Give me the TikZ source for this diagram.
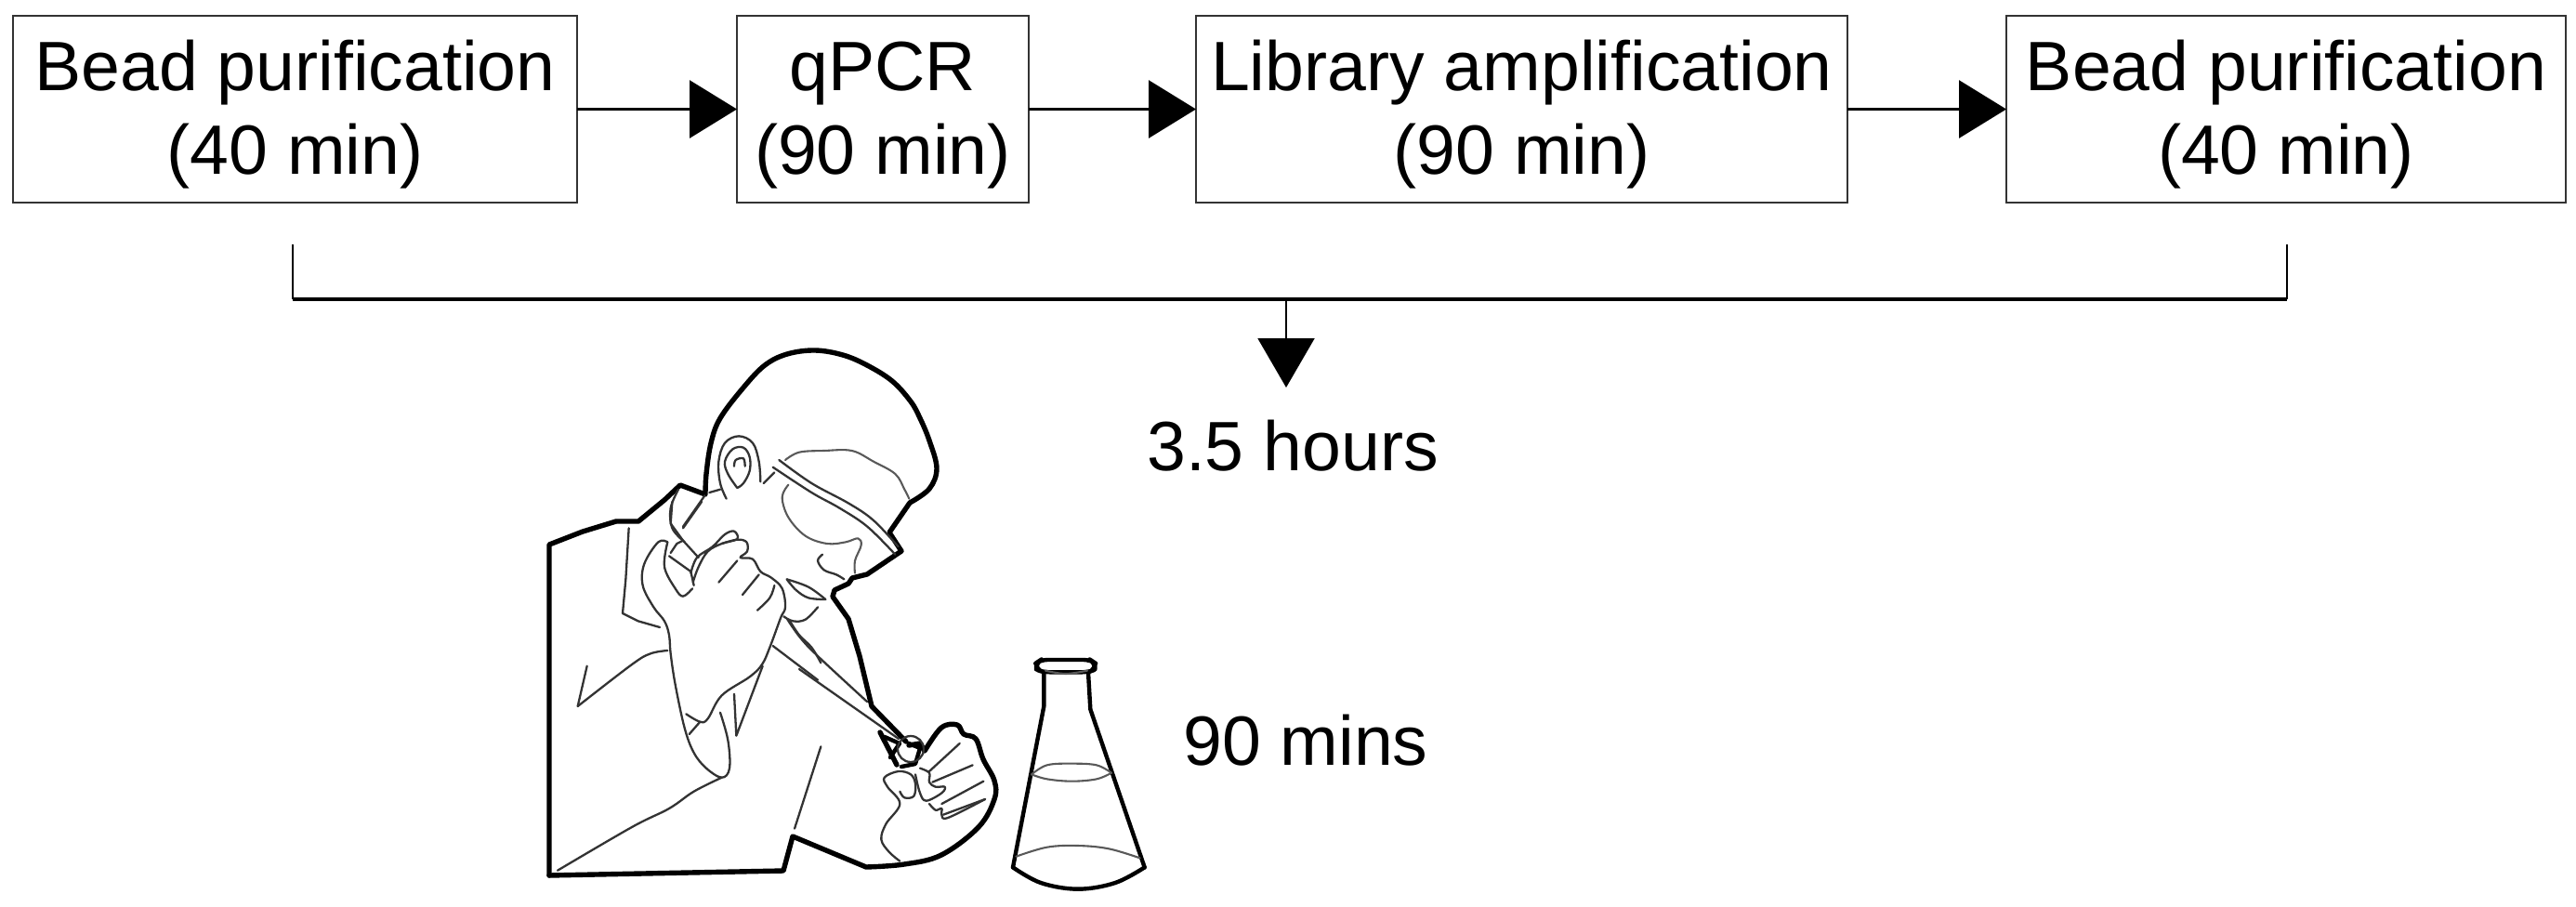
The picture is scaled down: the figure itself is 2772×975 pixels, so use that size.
\documentclass[tikz,border=0pt]{standalone}
\usepackage{fontspec}
\setmainfont{Liberation Sans}
\usetikzlibrary{arrows.meta}
\tikzset{
 boxnode/.style={draw=black!80,line width=1.1pt,inner sep=0pt,outer sep=0pt,minimum height=100.5pt,align=center,font=\fontsize{37.6}{45}\selectfont},
 lbl/.style={anchor=base,inner sep=0pt,font=\fontsize{37.6}{45}\selectfont},
 conn/.style={draw=black,line width=1.5pt,-{Triangle[length=25.5pt,width=31pt,fill=black]}},
 brk/.style={draw=black,line width=1pt},
 brkh/.style={draw=black,line width=1.7pt},
 heavy/.style={draw=black,line width=2.7pt,line join=round,line cap=round},
 mid/.style={draw=black,line width=2.2pt,line join=round,line cap=round},
 thin/.style={draw=black!80,line width=1.15pt,line join=round,line cap=round},
 faint/.style={draw=black!65,line width=1.05pt,line join=round,line cap=round},
 crop/.style={x=0.166667pt,y=-0.166667pt},
 every plot/.style={smooth,tension=.6},
}
\begin{document}
\begin{tikzpicture}[x=0.5pt,y=-0.5pt]
\useasboundingbox (0,0) rectangle (2772,975);
% boxes
\node[boxnode,minimum width=303.5pt] (b1) at (317.5,117.5) {\rule{0pt}{32.5pt}Bead purification\\(40 min)};
\node[boxnode,minimum width=157pt] (b2) at (950,117.5) {\rule{0pt}{32.5pt}qPCR\\(90 min)};
\node[boxnode,minimum width=350.5pt] (b3) at (1637.5,117.5) {\rule{0pt}{32.5pt}Library amplification\\(90 min)};
\node[boxnode,minimum width=301pt] (b4) at (2460,117.5) {\rule{0pt}{32.5pt}Bead purification\\(40 min)};
\draw[conn] (b1) -- (b2);
\draw[conn] (b2) -- (b3);
\draw[conn] (b3) -- (b4);
% bracket
\coordinate (brL) at (315,263);
\coordinate (brLb) at (315,322);
\coordinate (brR) at (2461,263);
\coordinate (brRb) at (2461,322);
\coordinate (brM) at (1384,322);
\coordinate (tip) at (1384,417);
\draw[brk] (brL) -- (brLb);
\draw[brk] (brR) -- (brRb);
\draw[brkh] (brLb) -- (brRb);
\draw[brk,-{Triangle[length=26.5pt,width=30.5pt,fill=black]}] (brM) -- (tip);
\node[lbl] (hours) at (1391,506) {3.5 hours};
\node[lbl] (mins) at (1405,823) {90 mins};
% scientist outline
\draw[heavy] (591,942) -- (591,586) -- (627,572) -- (663,561) -- (687,561) -- (715,538) -- (732,522) -- (759,532)
 -- plot coordinates {(759,532) (760,510) (765,477) (775,450) (800,417) (823,393) (847,381) (877,377) (907,382) (933,393) (960,410) (980,432) (990,450) (1000,474) (1008,504) (1000,526) (979,541)}
 -- (957,573) -- (970,593) -- (933,618) -- (917,622) -- (913,628) -- (898,635) -- (896,642)
 -- (913,666) -- (925,706) -- (938,760) -- (975,798) ;
\draw[heavy] (978,802) -- (990,800) -- (995,808)
 -- plot coordinates {(995,808) (1013,783) (1030,780) (1037,790) (1050,795) (1058,817) (1070,840) (1070,860) (1053,890) (1013,920) (973,930) (932,933)}
 -- (853,900) -- (843,937) -- (591,942);
% pipette tip
\draw[heavy] (947,788) -- (965,823);
\draw[mid] (952,793) -- (968,800) -- (958,815);
\draw[thin] (860,720) -- (967,795);
\draw[thin] plot coordinates {(847,666) (861,686) (880,706) (933,755)};
\draw[mid] (978,800) -- (990,805) -- (985,822) -- (970,825);
\draw[thin] (980,806) ellipse (7pt and 7pt);
% fist detail (crop 840,720)
\begin{scope}[shift={(840,720)},crop]
\draw[thin] (480,330) -- (578,240);
\draw[thin] (490,365) -- (620,310);
\draw[thin] (520,435) -- (655,362);
\draw[thin] (525,470) -- (660,420);
\draw[thin] plot coordinates {(450,320) (480,335) (480,365) (500,380) (530,380) (520,400) (470,425) (450,400) (435,340)};
\draw[thin] plot coordinates {(385,395) (400,415) (430,410) (435,370) (420,340) (380,330) (335,350) (345,380) (385,435) (340,500) (325,550) (350,590) (385,620)};
\draw[thin] plot coordinates {(480,435) (500,455) (520,450) (520,470) (540,480) (660,420)};
\draw[thin] (130,250) -- (45,515);
\end{scope}
% hand at face, arm (crop 580,540)
\begin{scope}[shift={(580,540)},crop]
\draw[thin] (290,85) -- (280,250) -- (270,360) -- (320,385) -- (390,405);
\draw[thin] plot coordinates {(415,130) (385,130) (340,200) (335,270) (370,340) (405,385) (420,430) (425,490) (440,590) (470,730) (500,810) (540,860) (590,890) (615,860) (610,770) (585,680)};
\draw[thin] plot coordinates {(415,480) (360,490) (300,525) (125,660)};
\draw[thin] (125,660) -- (155,530);
\draw[thin] plot coordinates {(415,130) (405,210) (440,280) (465,305) (495,280)};
\draw[thin] (420,175) -- (490,225) -- (500,270);
\draw[thin] (425,165) -- (445,135) -- (465,125);
\draw[thin] (465,125) -- (515,180);
\draw[thin] (430,0) -- (425,70) -- (465,125);
\draw[thin] (465,85) -- (525,0);
\draw[thin] plot coordinates {(490,230) (510,180) (560,145) (600,105) (630,95) (640,120) (590,135) (545,160) (515,210) (497,260)};
\draw[thin] plot coordinates {(590,135) (640,122) (670,130) (672,160) (650,180) (690,185) (715,225) (750,245) (785,280) (795,340) (780,375) (745,470) (720,525) (680,565) (590,625) (545,700) (520,710) (475,685)};
\draw[thin] (580,260) -- (640,190);
\draw[thin] (657,300) -- (710,235);
\draw[thin] plot coordinates {(705,350) (745,310) (760,270)};
\draw[thin] (520,710) -- (485,750);
\draw[thin] (630,620) -- (637,755) -- (722,530);
\draw[thin] plot coordinates {(590,890) (500,935) (420,990) (300,1050) (60,1190)};
\draw[thin] plot coordinates {(790,370) (820,385) (860,380) (900,340)};
\draw[thin] plot coordinates {(810,385) (840,430) (880,470) (910,520)};
\draw[thin] (755,465) -- (900,575);
\end{scope}
% head details (crop 700,370)
\begin{scope}[shift={(700,370)},crop]
\draw[thin] plot coordinates {(245,500) (225,450) (220,380) (240,320) (285,298) (330,320) (350,380) (355,445)};
\draw[thin] plot coordinates {(280,465) (250,420) (240,380) (265,340) (300,335) (320,365) (320,410) (300,450) (280,465)};
\draw[thin] plot coordinates {(270,395) (275,375) (300,370) (305,395)};
\draw[thin] (190,480) -- (225,470);
\draw[thin] (365,450) -- (400,415);
\draw[thin] plot coordinates {(395,398) (520,480) (610,530) (700,590) (790,680)};
\draw[thin] plot coordinates {(415,375) (520,450) (640,515) (720,570) (800,655)};
\draw[faint] plot coordinates {(435,375) (480,350) (560,345) (650,345) (720,380) (790,420) (820,470) (835,500)};
\draw[faint] plot coordinates {(445,455) (425,495) (445,560) (500,620) (570,645) (630,640) (670,628) (680,650) (660,700) (660,740)};
\draw[thin] plot coordinates {(555,680) (540,700) (560,730) (600,745) (625,760)};
\draw[thin] plot coordinates {(440,760) (510,785) (565,825)};
\draw[thin] plot coordinates {(440,760) (470,795) (510,820) (565,825)};
\draw[thin] plot coordinates {(90,470) (65,530) (70,595) (110,640)};
\draw[thin] (105,590) -- (175,490);
\end{scope}
% flask (crop 1070,690)
\begin{scope}[shift={(1070,690)},crop]
\draw[mid,rounded corners=3.5pt] (150,60) -- (310,60) -- (325,70) -- (325,92) -- (303,100) -- (160,100) -- (135,92) -- (135,70) -- cycle;
\draw[mid] (160,100) -- (160,210) -- (60,730);
\draw[mid] (303,100) -- (310,220) -- (485,730);
\draw[mid] plot coordinates {(60,730) (150,780) (270,800) (390,780) (485,730)};
\draw[faint] plot coordinates {(165,95) (230,105) (300,95)};
\draw[faint] plot coordinates {(120,430) (170,400) (250,395) (330,400) (378,425)};
\draw[faint] plot coordinates {(120,430) (170,445) (250,452) (330,445) (378,425)};
\draw[faint] plot coordinates {(70,695) (170,665) (270,660) (370,670) (470,700)};
\end{scope}
\end{tikzpicture}
\end{document}
